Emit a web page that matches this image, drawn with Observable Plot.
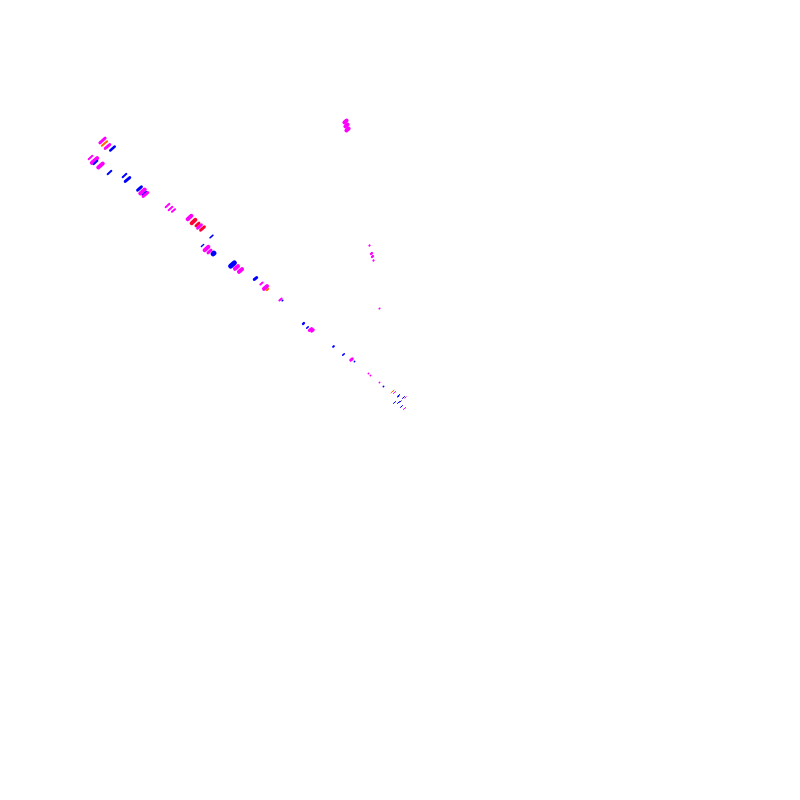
<!DOCTYPE html>
<html>
<head>
<meta charset="utf-8">
<script src="https://cdn.jsdelivr.net/npm/d3@7"></script>
<script src="https://cdn.jsdelivr.net/npm/@observablehq/plot@0.6"></script>
<style>
  html, body { margin: 0; padding: 0; background: #fff; }
</style>
</head>
<body>
<div id="chart"></div>
<script>
// Positions relative to the focal point (x right, y up), segment length and weight, category
const xs = [-298,-296,-293,-288,-310,-306,-305,-300,-291,-276,-273,-261,-258,-256,-255,-233,-230,-227,-211,-207,-203,-201,-198,-189,-198,-194,-191,-187,-168,-164,-160,-145,-139,-135,-133,-120,-118,-97,-93,-90,-88,-67,-57,-49,-46,-32,-30,-21,-17,-55,-54,-53,-31,-29,-28,-27,-21,-8,-6,-2,3,-2,1,-6,4,-2,5,0];
const ys = [260,257,254,252,243,240,238,235,228,225,221,212,209,207,206,195,192,190,183,179,176,174,172,164,155,152,149,147,136,133,130,122,117,113,111,101,100,77,73,71,70,54,46,41,39,27,25,18,14,279,275,271,155,147,144,140,92,9,8,5,3,-2,-6,-2,-8,4,3,-1];
const lens = [7,7,6,6,5,7,5,6,5,5,6,5,6,5,6,5,5,4,5,5,4,5,5,4,3,5,4,1,5,4,4,3,3,4,2,3,1,1,2,3,2,1,2,2,0.5,0.5,0.5,0.5,0.5,3,3,3,0.5,1,1,0.5,1,4,3,3,3,3,3,3,3,2,2,2];
const weights = [3,2,3,2.5,2,4,2,4,2,2,3,3,4,2,3,2,2,2,4,4,3,3,3,1.5,1.5,4,3,5,5,4,4,3,2,4,2,2,1.5,2.5,1.5,3,3,2,1.5,3,1.5,1.5,1.5,1.5,1.5,4,4,4,2,2.5,2.5,2,1.5,1,1,1,1,1,1,1,1,1,1,1];
const groups = ["M","O","M","B","M","M","B","M","B","B","B","B","M","B","M","M","M","M","M","R","R","M","R","B","B","M","M","B","B","M","M","B","M","M","O","M","B","B","B","M","M","B","B","M","B","M","M","M","B","M","M","M","M","M","M","M","M","O","M","B","B","B","B","B","M","B","M","B"];

const categories = ["M", "B", "O", "R"];
const palette = ["#ff00ff", "#0000ff", "#ff6a00", "#ff0033"];

const data = xs.map((x, i) => ({x, y: ys[i], len: lens[i], w: weights[i], g: groups[i]}));

// segment direction (roughly perpendicular to the main diagonal)
const ux = 0.75, uy = 0.66;

const chart = Plot.plot({
  width: 800,
  height: 800,
  margin: 0,
  x: {domain: [-400, 400], axis: null},
  y: {domain: [-400, 400], axis: null},
  color: {domain: categories, range: palette},
  marks: [
    Plot.link(data, {
      x1: d => d.x - d.len / 2 * ux,
      y1: d => d.y - d.len / 2 * uy,
      x2: d => d.x + d.len / 2 * ux,
      y2: d => d.y + d.len / 2 * uy,
      stroke: "g",
      strokeWidth: "w",
      strokeLinecap: "round"
    })
  ]
});
document.getElementById("chart").appendChild(chart);
</script>
</body>
</html>
